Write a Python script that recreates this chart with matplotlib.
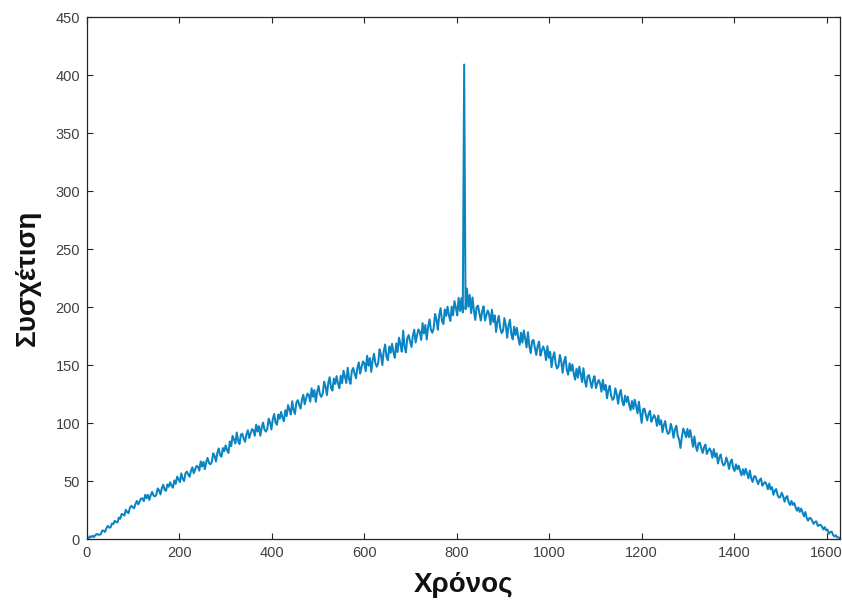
import numpy as np
import matplotlib
matplotlib.use("Agg")
import matplotlib.pyplot as plt

# Cross-correlation values, one every 3 lag steps (lag 0 .. 1629)
step = 3
corr = [
    0.8, 0.35, 2.3, 1.65, 2.8, 1.75, 3.3, 4.35, 3.7, 3.75,
    4.1, 7.34, 7.16, 6.08, 9.32, 11.3, 9.86, 10.04, 13.28, 12.92,
    15.68, 14.62, 14.28, 18.5, 17.44, 21.66, 21.08, 20.26, 25.2, 23.18,
    22.3, 27.1, 28.6, 27.4, 26.5, 30.4, 32.8, 29.8, 32.5, 34.9,
    34.99, 32.62, 38.17, 35.14, 38.05, 33.7, 37.93, 40.51, 37.48, 36.76,
    38.1, 43.64, 41.96, 38.38, 43.92, 46.8, 42.46, 41.54, 47.08, 45.02,
    48.94, 45.96, 44.24, 50.5, 47.52, 53.78, 51.64, 49.08, 56.6, 51.94,
    49.95, 56.5, 58.1, 55.65, 53.65, 58.85, 61.8, 56.65, 60.05, 63.0,
    62.44, 58.92, 66.92, 62.44, 66.6, 60.2, 66.28, 69.96, 65.48, 64.36,
    66.45, 73.88, 71.62, 66.81, 74.24, 78.1, 72.27, 71.03, 78.46, 75.69,
    80.78, 76.72, 74.28, 84.1, 80.04, 88.86, 85.88, 82.36, 91.8, 84.58,
    81.87, 89.98, 90.82, 86.53, 83.81, 90.21, 93.76, 87.05, 91.17, 94.72,
    93.8, 89.0, 98.6, 92.6, 97.4, 89.0, 96.2, 100.4, 94.4, 92.6,
    94.85, 103.74, 100.66, 94.43, 103.32, 107.8, 100.31, 98.49, 107.38, 103.67,
    109.62, 104.58, 101.52, 111.0, 105.96, 115.44, 111.72, 107.34, 118.8, 111.12,
    107.79, 117.56, 119.74, 115.71, 112.37, 120.07, 124.32, 116.15, 121.09, 125.34,
    124.16, 118.38, 129.88, 122.66, 128.4, 118.3, 126.92, 131.94, 124.72, 122.54,
    125.25, 135.6, 131.7, 124.05, 134.4, 139.5, 130.35, 127.95, 138.3, 133.65,
    140.46, 134.04, 129.96, 140.7, 134.28, 145.02, 140.16, 134.52, 147.6, 138.06,
    133.71, 145.04, 147.46, 142.59, 138.53, 147.43, 152.28, 142.55, 148.21, 153.06,
    151.52, 144.66, 157.96, 149.42, 156.0, 144.1, 154.04, 159.78, 151.24, 148.58,
    151.65, 163.56, 158.94, 149.97, 161.88, 167.7, 156.99, 154.11, 166.02, 160.53,
    168.3, 160.9, 156.2, 168.6, 161.2, 173.6, 168.0, 161.5, 179.6, 165.6,
    160.9, 173.3, 175.8, 170.2, 165.5, 175.2, 180.4, 169.4, 175.5, 180.7,
    178.7, 171.6, 186.1, 177.2, 184.5, 172.0, 182.9, 189.3, 180.4, 177.8,
    181.5, 194.0, 189.4, 180.3, 192.8, 199.0, 188.1, 185.3, 197.8, 192.3,
    200.3, 192.8, 188.0, 200.3, 192.8, 205.1, 199.4, 192.8, 207.8, 196.7,
    207.6, 195.4, 409.0, 198.1, 215.9, 200.2, 210.4, 194.8, 208.3, 197.2,
    188.9, 200.0, 201.2, 194.3, 188.3, 196.7, 200.6, 188.3, 193.1, 197.0,
    193.7, 184.9, 197.7, 187.1, 192.7, 178.5, 187.7, 192.4, 181.8, 177.5,
    179.5, 190.4, 184.2, 173.5, 184.4, 189.0, 176.5, 172.1, 183.0, 175.9,
    182.1, 173.5, 167.4, 177.9, 169.3, 179.8, 172.9, 165.2, 178.3, 166.2,
    160.2, 170.7, 171.6, 164.7, 158.7, 166.6, 170.2, 158.1, 162.5, 166.0,
    162.5, 154.3, 166.2, 156.2, 161.4, 148.1, 156.6, 161.0, 151.0, 147.0,
    148.9, 158.7, 153.0, 143.3, 153.0, 157.1, 145.8, 141.7, 151.5, 145.0,
    150.5, 142.7, 137.4, 146.8, 139.1, 148.5, 142.4, 135.4, 147.2, 136.4,
    131.3, 140.4, 141.3, 135.5, 130.4, 137.3, 140.4, 130.1, 134.0, 137.1,
    134.2, 127.0, 137.1, 128.5, 132.8, 121.3, 128.5, 132.1, 123.5, 119.9,
    121.5, 129.9, 125.0, 116.6, 125.0, 128.5, 118.7, 115.2, 123.6, 118.0,
    122.8, 115.8, 111.0, 119.0, 112.1, 120.1, 114.6, 108.3, 118.4, 108.8,
    100.1, 111.8, 112.4, 106.9, 102.2, 108.0, 110.5, 101.1, 104.3, 106.8,
    103.9, 97.5, 106.4, 98.6, 102.4, 92.1, 98.4, 101.6, 93.8, 90.6,
    91.9, 99.3, 94.8, 87.3, 94.7, 97.7, 88.9, 85.8, 78.5, 88.1,
    95.2, 92.1, 87.8, 94.9, 87.8, 93.9, 87.0, 79.5, 88.4, 79.9,
    75.9, 82.6, 83.0, 78.3, 74.2, 79.2, 81.4, 73.3, 76.0, 78.1,
    75.6, 70.1, 77.5, 70.8, 73.9, 65.1, 70.3, 72.9, 66.2, 63.4,
    64.5, 70.3, 66.6, 60.4, 66.2, 68.5, 61.3, 58.6, 64.4, 60.2,
    63.2, 58.4, 54.9, 60.2, 55.4, 60.6, 56.7, 52.3, 59.0, 52.3,
    49.2, 54.0, 54.1, 50.5, 47.3, 50.8, 52.2, 46.0, 47.8, 49.2,
    47.2, 42.9, 47.9, 42.8, 44.8, 38.1, 41.6, 43.1, 38.0, 35.7,
    36.3, 39.9, 36.9, 32.1, 35.8, 37.0, 31.6, 29.3, 32.9, 29.5,
    31.1, 27.3, 24.4, 27.2, 23.4, 26.2, 23.0, 19.5, 23.2, 18.2,
    15.8, 18.2, 17.9, 15.4, 13.1, 14.8, 15.2, 11.2, 11.9, 12.3,
    10.6, 8.2, 10.3, 7.5, 8.2, 4.6, 6.0, 6.4, 3.6, 2.2,
    3.2, 1.4, 1.5, 0.3,
]
xticks = [0, 200, 400, 600, 800, 1000, 1200, 1400, 1600]
yticks = [0, 50, 100, 150, 200, 250, 300, 350, 400, 450]

lags = np.arange(len(corr)) * step

plt.rcParams['font.family'] = ['Liberation Sans', 'DejaVu Sans']

fig = plt.figure(figsize=(8.42, 6.03), dpi=100)
ax = fig.add_axes([0.1033, 0.1061, 0.8943, 0.8657])

ax.plot(lags, corr, color='#0a84c2', linewidth=1.45)

ax.set_xlim(0, 1629)
ax.set_ylim(0, 450)
ax.set_xticks(xticks)
ax.set_yticks(yticks)

# MATLAB-like box with inward ticks on all four sides
ax.tick_params(direction='in', top=True, right=True, length=4, width=0.8,
               colors='#262626', labelcolor='#404040', labelsize=10.5, pad=5)
for spine in ax.spines.values():
    spine.set_color('#262626')
    spine.set_linewidth(0.9)

ax.set_xlabel('Χρόνος', fontsize=20, fontweight='bold', color='#111111')
ax.set_ylabel('Συσχέτιση', fontsize=20, fontweight='bold', color='#111111')
ax.xaxis.set_label_coords(0.5, -0.063)
ax.yaxis.set_label_coords(-0.062, 0.5)

fig.savefig('out.png', dpi=100)
